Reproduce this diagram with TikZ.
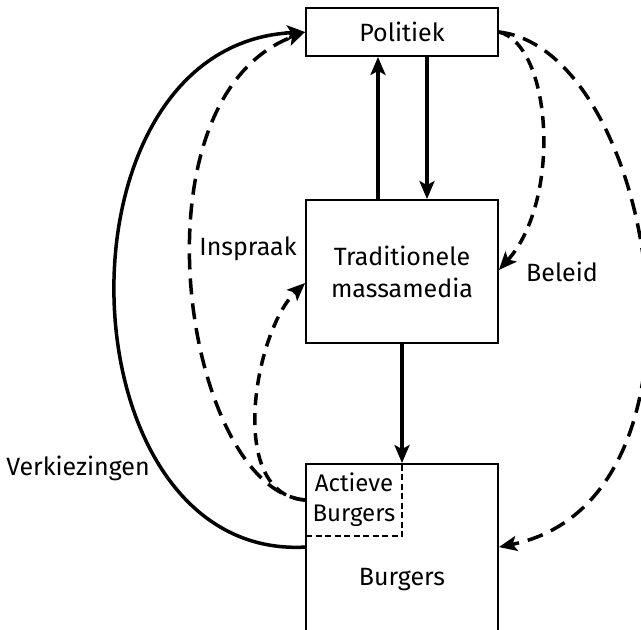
\documentclass[tikz,border=0pt]{standalone}
\usepackage{fontspec}
\setmainfont{Fira Sans}
\usetikzlibrary{arrows.meta,calc}
\begin{document}
\begin{tikzpicture}[x=1pt,y=-1pt,
  box/.style={draw,line width=1.8pt,rectangle,inner sep=0pt},
  lbl/.style={font=\fontsize{25}{32}\selectfont,inner sep=0pt,align=center},
  conn/.style={line width=3.5pt,-{Stealth[length=18pt,width=15pt,inset=4pt]}},
  longdash/.style={dash pattern=on 16pt off 9pt},
  shortdash/.style={dash pattern=on 12pt off 8pt}]
\useasboundingbox (0,0) rectangle (641,630);
\clip (0,0) rectangle (641,630);
% boxes
\node[box,minimum width=192pt,minimum height=48pt,lbl] (pol) at (402,32) {Politiek};
\node[box,minimum width=192pt,minimum height=143pt,lbl] (mm) at (402,271.5) {Traditionele\\massamedia};
\node[box,minimum width=192pt,minimum height=196pt] (burg) at (402,562) {};
\node[lbl] (burgtxt) at (402,580) {Burgers};
\node[draw,line width=1.5pt,dash pattern=on 6pt off 3.5pt,minimum width=96pt,minimum height=72pt,inner sep=0pt,lbl,font=\fontsize{24}{30}\selectfont] (act) at (354,500) {Actieve\\Burgers};
% labels
\node[lbl] (insp) at (248,249) {Inspraak};
\node[lbl] (bel) at (562,272) {Beleid};
\node[lbl] (verk) at (78,468) {Verkiezingen};
% anchor coordinates
\coordinate (polL) at (pol.west);
\coordinate (polR) at (pol.east);
\coordinate (mmL) at ($(mm.west)+(0,11.5)$);
\coordinate (mmR) at ($(mm.east)+(0,-1.5)$);
\coordinate (burgL) at ($(burg.north west)+(0,84)$);
\coordinate (burgR) at ($(burg.north east)+(0,84)$);
\coordinate (mmTa) at ($(mm.north)+(-24,0)$);
\coordinate (mmTb) at ($(mm.north)+(25,0)$);
\coordinate (polBa) at ($(pol.south)+(-24,0)$);
\coordinate (polBb) at ($(pol.south)+(25,0)$);
% straight arrows
\draw[conn] (mmTa) -- (polBa);
\draw[conn] (polBb) -- (mmTb);
\draw[conn] (mm.south) -- (burg.north);
% Verkiezingen
\draw[conn] (burgL) .. controls (60,560) and (45,45) .. (polL);
% Inspraak
\draw[conn,longdash] (act.west) .. controls (185,490) and (125,100) .. (polL);
\draw[conn,shortdash] (act.west) .. controls (225,495) and (255,330) .. (mmL);
% Beleid
\draw[conn,shortdash] (polR) .. controls (552,45) and (562,200) .. (mmR);
\draw[conn,longdash] (polR) .. controls (655,50) and (730,500) .. (burgR);
\end{tikzpicture}
\end{document}
